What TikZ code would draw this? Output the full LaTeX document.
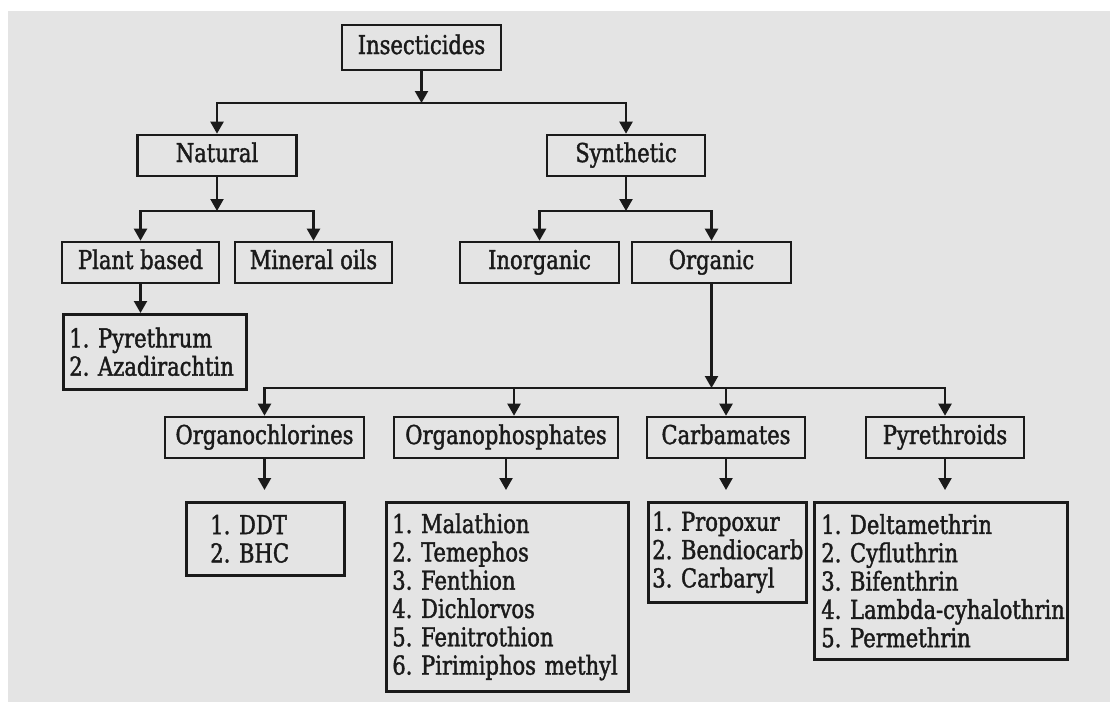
\documentclass[tikz,border=0pt]{standalone}
\usepackage{fontspec}
\setmainfont[FakeStretch=0.81,FakeBold=1.5]{DejaVu Serif}
\usetikzlibrary{arrows.meta,calc}
\definecolor{bg}{HTML}{E4E4E4}
\definecolor{ink}{HTML}{1A1A1A}
\begin{document}
\frenchspacing
\begin{tikzpicture}[x=1pt,y=-1pt,
  font=\fontsize{26}{28.3}\selectfont,
  box/.style={draw=ink, line width=2.6pt, minimum height=41pt, inner sep=0pt,
    text height=18.5pt, text depth=5.5pt, text=ink},
  lbox/.style={draw=ink, line width=2.6pt, anchor=north west, align=left,
    inner xsep=6pt, inner ysep=0pt, text=ink},
  arr/.style={draw=ink, line width=2.2pt, -{Triangle[width=13pt,length=12pt]}},
  lnk/.style={draw=ink, line width=2.2pt}]
\useasboundingbox (0,0) rectangle (1110,702);
\fill[white] (0,0) rectangle (1110,702);
\fill[bg] (8,11) rectangle (1110,702);

% level 0
\node[box, minimum width=159pt, minimum height=45pt] (ins) at (421.5,47.5) {Insecticides};
% level 1
\node[box, minimum width=159pt] (nat) at (217,155.5) {Natural};
\node[box, minimum width=158pt] (syn) at (626,155.5) {Synthetic};
% level 2
\node[box, minimum width=157pt] (plant) at (140.5,262.5) {Plant based};
\node[box, minimum width=157pt] (mineral) at (313.5,262.5) {Mineral oils};
\node[box, minimum width=159pt] (inorg) at (539.5,262.5) {Inorganic};
\node[box, minimum width=159pt] (org) at (711.5,262.5) {Organic};
\node[lbox, text width=171pt, minimum height=75pt] (plist) at (62,313) {\mbox{1. Pyrethrum}\\\mbox{2. Azadirachtin}};
% level 3
\node[box, minimum width=199pt] (ochl) at (264.5,437.5) {Organochlorines};
\node[box, minimum width=224pt] (ophos) at (506,437.5) {Organophosphates};
\node[box, minimum width=158pt] (carb) at (726,437.5) {Carbamates};
\node[box, minimum width=158pt] (pyr) at (945,437.5) {Pyrethroids};
% lists
\node[lbox, inner xsep=24pt, text width=110pt, minimum height=73pt] (ddt) at (185,501) {\mbox{1. DDT}\\\mbox{2. BHC}};
\node[lbox, text width=230pt, minimum height=189pt] (oplist) at (385,501) {\mbox{1. Malathion}\\\mbox{2. Temephos}\\\mbox{3. Fenthion}\\\mbox{4. Dichlorvos}\\\mbox{5. Fenitrothion}\\\mbox{6. Pirimiphos methyl}};
\node[lbox, inner xsep=4pt, text width=150pt, minimum height=100pt] (clist) at (647,501) {\mbox{1. Propoxur}\\\mbox{2. Bendiocarb}\\\mbox{3. Carbaryl}};
\node[lbox, inner xsep=7pt, text width=239pt, minimum height=157pt] (pylist) at (813,501) {\mbox{1. Deltamethrin}\\\mbox{2. Cyfluthrin}\\\mbox{3. Bifenthrin}\\\mbox{4. Lambda-cyhalothrin}\\\mbox{5. Permethrin}};

% junctions
\coordinate (j1) at (421.5,103);
\coordinate (j2) at (217,211);
\coordinate (j3) at (626,211);
\coordinate (j4) at (711.5,388);

\draw[arr] (ins) -- (j1);
\draw[arr] (j1) -| (nat);
\draw[arr] (j1) -| (syn);

\draw[arr] (nat) -- (j2);
\draw[arr] (j2) -| (plant);
\draw[arr] (j2) -| (mineral);

\draw[arr] (syn) -- (j3);
\draw[arr] (j3) -| (inorg);
\draw[arr] (j3) -| (org);

\draw[arr] (plant) -- (plant |- plist.north);

\draw[arr] (org) -- (j4);
\draw[arr] (j4) -| (ochl);
\draw[arr] (j4) -| (pyr);
\draw[arr] (j4 -| carb) -- (carb);
\draw[arr] ([xshift=8pt]ophos.north |- j4) -- ([xshift=8pt]ophos.north);

\draw[arr, shorten >=11pt] (ochl) -- (ochl |- ddt.north);
\draw[arr, shorten >=11pt] (ophos) -- (ophos |- oplist.north);
\draw[arr, shorten >=11pt] (carb) -- (carb |- clist.north);
\draw[arr, shorten >=11pt] (pyr) -- (pyr |- pylist.north);
\end{tikzpicture}
\end{document}
